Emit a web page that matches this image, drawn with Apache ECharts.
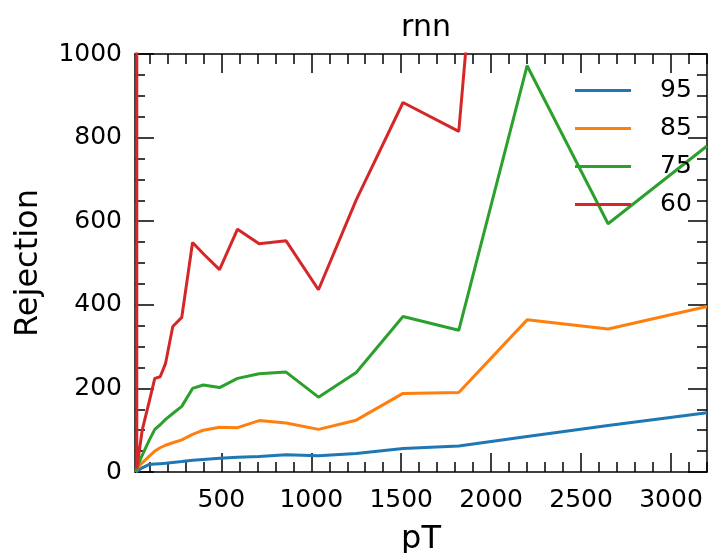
<!DOCTYPE html>
<html>
<head>
<meta charset="utf-8">
<script src="https://cdn.jsdelivr.net/npm/echarts@6/dist/echarts.min.js"></script>
<style>html,body{margin:0;padding:0;background:#fff;}#c{width:709px;height:553px;}</style>
</head>
<body>
<div id="c"></div>
<script>
const pT = [25, 30, 60, 100, 130, 160, 190, 230, 280, 340, 400, 490, 590, 710, 860, 1040, 1250, 1510, 1820, 2200, 2650, 3200];
const rej95 = [0, 3, 10, 18, 19, 20, 21, 23, 25, 28, 30, 33, 35, 37, 41, 39, 44, 56, 62, 85, 111, 142];
const rej85 = [0, 8, 22, 38, 50, 58, 64, 70, 77, 90, 100, 107, 106, 123, 117, 102, 124, 188, 190, 364, 342, 396];
const rej75 = [0, 10, 40, 77, 102, 113, 126, 140, 157, 200, 208, 202, 224, 235, 239, 179, 238, 372, 339, 972, 594, 780];
const rej60 = [100000, 8, 100, 170, 224, 228, 260, 348, 370, 549, 522, 484, 581, 546, 553, 436, 651, 884, 815, 2700, 3000, 3300];
const seriesNames = ['95', '85', '75', '60'];
const xMajor = [500, 1000, 1500, 2000, 2500, 3000];
const xMinor = [100, 200, 300, 400, 600, 700, 800, 900, 1100, 1200, 1300, 1400, 1600, 1700, 1800, 1900, 2100, 2200, 2300, 2400, 2600, 2700, 2800, 2900, 3100, 3200];

const colors = ['#1f77b4', '#ff7f0e', '#2ca02c', '#d62728'];
const values = [rej95, rej85, rej75, rej60];
const FONT = 'DejaVu Sans';
const plain = v => String(v);

function xAx(pos, major, withLabel, withLine) {
  return {
    type: 'value', position: pos, min: 20, max: 3200, gridIndex: 0,
    axisLine: {show: withLine, onZero: false, lineStyle: {color: '#000', width: 1.5}},
    axisTick: {show: true, inside: true, length: major ? 19 : 10, customValues: major ? xMajor : xMinor, lineStyle: {color: '#000', width: 1.5}},
    axisLabel: {show: withLabel, customValues: xMajor, formatter: plain, color: '#000', fontSize: 25, fontFamily: FONT, margin: 16},
    splitLine: {show: false},
    name: withLabel ? 'pT' : '', nameLocation: 'middle', nameGap: 52,
    nameTextStyle: {color: '#000', fontSize: 32, fontFamily: FONT}
  };
}
function yAx(pos, withLabel) {
  return {
    type: 'value', position: pos, min: 0, max: 1000, interval: 200, gridIndex: 0,
    axisLine: {show: true, onZero: false, lineStyle: {color: '#000', width: 1.5}},
    axisTick: {show: true, inside: true, length: 19, lineStyle: {color: '#000', width: 1.5}},
    minorTick: {show: true, splitNumber: 4, length: 10, lineStyle: {color: '#000', width: 1.5}},
    axisLabel: {show: withLabel, formatter: plain, color: '#000', fontSize: 25, fontFamily: FONT, margin: 13},
    splitLine: {show: false},
    name: withLabel ? 'Rejection' : '', nameLocation: 'middle', nameGap: 90,
    nameTextStyle: {color: '#000', fontSize: 32, fontFamily: FONT}
  };
}

const chart = echarts.init(document.getElementById('c'), null, {renderer: 'canvas'});
chart.setOption({
  animation: false,
  backgroundColor: '#fff',
  title: {text: 'rnn', left: 421, textAlign: 'center', top: 8,
    textStyle: {color: '#000', fontSize: 30, fontWeight: 'normal', fontFamily: FONT}},
  grid: {left: 135, top: 54, right: 2, bottom: 81, containLabel: false, outerBoundsMode: 'none'},
  legend: {
    data: seriesNames, orient: 'vertical', left: 575, top: 78, padding: 0,
    itemWidth: 56, itemHeight: 3, itemGap: 13, icon: 'rect',
    selectedMode: false,
    textStyle: {color: '#000', fontSize: 25, fontFamily: FONT, padding: [0, 0, 0, 24], lineHeight: 25}
  },
  xAxis: [xAx('bottom', true, true, true), xAx('bottom', false, false, false), xAx('top', true, false, true), xAx('top', false, false, false)],
  yAxis: [yAx('left', true), yAx('right', false)],
  series: seriesNames.map((n, i) => ({
    name: n, type: 'line', xAxisIndex: 0, yAxisIndex: 0,
    data: pT.map((x, j) => [x, values[i][j]]),
    showSymbol: false, symbol: 'none', clip: true,
    lineStyle: {color: colors[i], width: 3},
    itemStyle: {color: colors[i]}
  }))
});
</script>
</body>
</html>
